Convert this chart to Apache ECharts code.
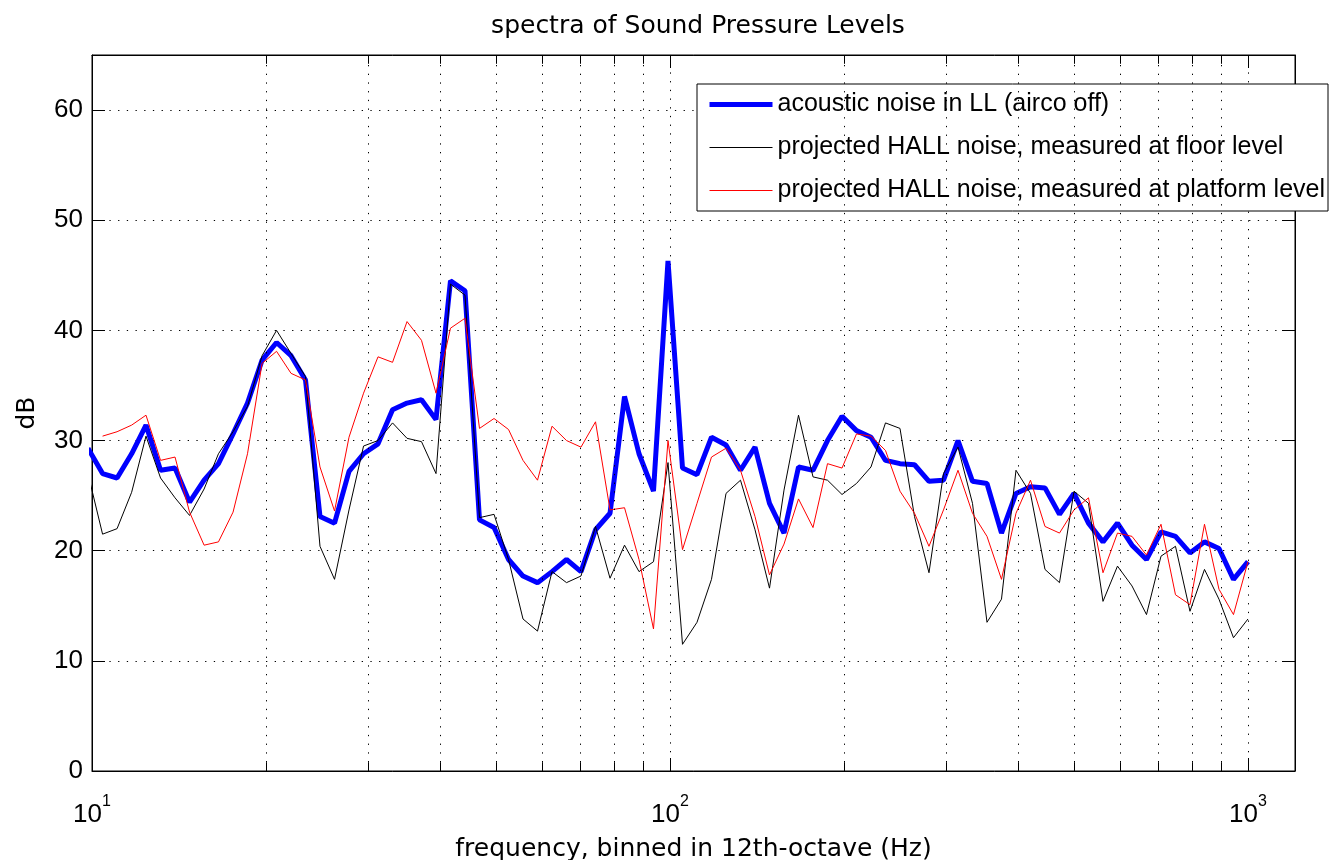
<!DOCTYPE html>
<html>
<head>
<meta charset="utf-8">
<script src="https://cdn.jsdelivr.net/npm/echarts@6/dist/echarts.min.js"></script>
<style>html,body{margin:0;padding:0;background:#fff}#c{width:1330px;height:860px}</style>
</head>
<body>
<div id="c"></div>
<script>
// 12th-octave bin centre frequencies (Hz)
const frequencies = [9.84, 10.43, 11.05, 11.71, 12.40, 13.14, 13.92, 14.75,
  15.63, 16.55, 17.54, 18.58, 19.69, 20.86, 22.10, 23.41, 24.80, 26.28, 27.84, 29.50,
  31.25, 33.11, 35.08, 37.16, 39.37, 41.71, 44.19, 46.82, 49.61, 52.56, 55.68, 58.99,
  62.5, 66.22, 70.15, 74.33, 78.75, 83.43, 88.39, 93.64, 99.21, 105.11, 111.36, 117.98,
  125, 132.43, 140.31, 148.65, 157.49, 166.86, 176.78, 187.29, 198.43, 210.22, 222.72, 235.97,
  250, 264.87, 280.62, 297.30, 314.98, 333.71, 353.55, 374.58, 396.85, 420.45, 445.45, 471.94,
  500, 529.73, 561.23, 594.60, 629.96, 667.42, 707.11, 749.15, 793.70, 840.90, 890.90, 943.87, 1000];

// acoustic noise in LL (airco off), dB
const llNoise = [29.3, 27.0, 26.6, 28.8, 31.4, 27.3, 27.5, 24.4,
  26.4, 27.9, 30.6, 33.4, 37.3, 38.9, 37.7, 35.5, 23.1, 22.5, 27.2, 28.8,
  29.7, 32.8, 33.4, 33.7, 31.9, 44.5, 43.6, 22.8, 22.1, 19.2, 17.7, 17.1,
  18.1, 19.2, 18.1, 21.9, 23.4, 34.0, 28.8, 25.4, 46.3, 27.5, 26.9, 30.3,
  29.6, 27.3, 29.4, 24.3, 21.6, 27.6, 27.3, 30.0, 32.2, 30.9, 30.3, 28.2,
  27.9, 27.8, 26.3, 26.4, 30.0, 26.3, 26.1, 21.6, 25.2, 25.8, 25.7, 23.3,
  25.2, 22.5, 20.8, 22.5, 20.5, 19.2, 21.7, 21.3, 19.8, 20.8, 20.2, 17.4, 19.0];

// projected HALL noise, measured at floor level, dB
const hallFloor = [27.0, 21.5, 22.0, 25.3, 30.4, 26.6, 24.8, 23.2,
  25.6, 28.8, 30.8, 33.1, 37.7, 40.0, 37.9, 35.8, 20.4, 17.4, 23.7, 29.5,
  30.0, 31.6, 30.2, 29.9, 27.0, 44.2, 43.2, 23.0, 23.3, 19.2, 13.8, 12.7,
  18.1, 17.1, 17.7, 22.2, 17.5, 20.5, 18.1, 19.0, 28.0, 11.5, 13.5, 17.4,
  25.2, 26.4, 21.9, 16.6, 25.5, 32.3, 26.7, 26.4, 25.1, 26.1, 27.6, 31.6,
  31.1, 23.1, 18.0, 27.0, 29.4, 24.3, 13.5, 15.6, 27.3, 25.2, 18.3, 17.1,
  25.4, 24.3, 15.4, 18.6, 16.8, 14.2, 19.5, 20.4, 14.5, 18.3, 15.6, 12.1, 13.8];

// projected HALL noise, measured at platform level, dB
const hallPlatform = [null, 30.4, 30.8, 31.4, 32.3, 28.2, 28.5, 23.5,
  20.5, 20.8, 23.5, 28.8, 37.0, 38.1, 36.1, 35.5, 27.6, 23.6, 30.3, 34.3,
  37.6, 37.1, 40.8, 39.1, 34.3, 40.2, 41.1, 31.1, 32.0, 31.0, 28.2, 26.4,
  31.3, 30.0, 29.4, 31.7, 23.7, 23.9, 19.2, 12.9, 30.0, 20.1, 24.3, 28.5,
  29.3, 27.3, 23.1, 17.8, 20.6, 24.7, 22.1, 27.9, 27.5, 30.6, 30.4, 29.1,
  25.4, 23.4, 20.4, 23.7, 27.3, 23.4, 21.3, 17.4, 23.4, 26.4, 22.2, 21.6,
  23.7, 24.8, 18.0, 21.6, 21.3, 19.6, 22.4, 16.0, 15.1, 22.4, 16.5, 14.2, 19.0];

const seriesNames = ['acoustic noise in LL (airco off)',
  'projected HALL noise, measured at floor level',
  'projected HALL noise, measured at platform level'];

// minor log grid positions (Hz)
const minorFreqs = [20, 30, 40, 50, 60, 70, 80, 90, 200, 300, 400, 500, 600, 700, 800, 900];

const X_MIN = 10, X_MAX = 1206, Y_MIN = 0, Y_MAX = 65, Y_STEP = 10;

const pairs = arr => frequencies.map((f, i) => [f, arr[i]]);
const TICK_FONT = "'Liberation Sans', Arial, sans-serif";
const NAME_FONT = "'DejaVu Sans', sans-serif";
const dotted = [1.3, 7.4];

const markData = [];
minorFreqs.forEach(f => markData.push({ xAxis: f }));
const MINOR_LEN = 0.8;
minorFreqs.forEach(f => {
  markData.push([{ coord: [f, Y_MIN], lineStyle: { type: 'solid', width: 1 } }, { coord: [f, Y_MIN + MINOR_LEN], lineStyle: { type: 'solid', width: 1 } }]);
  markData.push([{ coord: [f, Y_MAX], lineStyle: { type: 'solid', width: 1 } }, { coord: [f, Y_MAX - MINOR_LEN], lineStyle: { type: 'solid', width: 1 } }]);
});

const chart = echarts.init(document.getElementById('c'), null, { renderer: 'canvas' });
const option = {
  animation: false,
  backgroundColor: '#fff',
  title: {
    text: 'spectra of Sound Pressure Levels',
    left: 693, top: 9, textAlign: 'center',
    textStyle: { fontFamily: NAME_FONT, fontSize: 25, fontWeight: 'normal', color: '#000' }
  },
  grid: { left: 92, top: 55, right: 35, bottom: 89, show: true, borderColor: '#000', borderWidth: 1, outerBoundsMode: 'none', containLabel: false },
  legend: {
    orient: 'vertical', left: 697, top: 84,
    backgroundColor: '#fff', borderColor: '#000', borderWidth: 1, borderRadius: 0,
    padding: [8, 3, 8, 10], itemGap: 18, itemWidth: 63, itemHeight: 14,
    selectedMode: false,
    itemStyle: { opacity: 0 },
    data: [
      { name: seriesNames[0], lineStyle: { width: 5, color: '#0000ff' } },
      { name: seriesNames[1], lineStyle: { width: 1, color: '#000000' } },
      { name: seriesNames[2], lineStyle: { width: 1, color: '#ff0000' } }
    ],
    textStyle: { fontFamily: "'Liberation Sans', Arial, sans-serif", fontSize: 25, color: '#000' }
  },
  xAxis: [{
    type: 'log', logBase: 10, min: X_MIN, max: X_MAX, position: 'bottom',
    axisLine: { show: true, onZero: false, lineStyle: { color: '#000', width: 1 } },
    axisTick: { show: true, inside: true, length: 13, lineStyle: { color: '#000' } },
    axisLabel: {
      margin: 23, showMaxLabel: false, color: '#000',
      formatter: v => '{b|10}{s|' + Math.round(Math.log10(v)) + '}',
      rich: {
        b: { fontSize: 26, fontFamily: TICK_FONT, color: '#000', lineHeight: 34, verticalAlign: 'bottom' },
        s: { fontSize: 16, fontFamily: TICK_FONT, color: '#000', lineHeight: 16, verticalAlign: 'top' }
      }
    },
    splitLine: { show: true, lineStyle: { color: '#000', width: 1, type: dotted } },
    name: 'frequency, binned in 12th-octave (Hz)', nameLocation: 'middle', nameGap: 66,
    nameMoveOverlap: false,
    nameTextStyle: { fontFamily: NAME_FONT, fontSize: 25, color: '#000' }
  }, {
    type: 'log', logBase: 10, min: X_MIN, max: X_MAX, position: 'top',
    axisLine: { show: true, onZero: false, lineStyle: { color: '#000', width: 1 } },
    axisTick: { show: true, inside: true, length: 13, lineStyle: { color: '#000' } },
    axisLabel: { show: false }, splitLine: { show: false }
  }],
  yAxis: [{
    type: 'value', min: Y_MIN, max: Y_MAX, interval: Y_STEP, position: 'left',
    axisLine: { show: true, onZero: false, lineStyle: { color: '#000', width: 1 } },
    axisTick: { show: true, inside: true, length: 13, lineStyle: { color: '#000' } },
    axisLabel: { margin: 9, showMaxLabel: false, fontFamily: TICK_FONT, fontSize: 26, color: '#000' },
    splitLine: { show: true, lineStyle: { color: '#000', width: 1, type: dotted } },
    name: 'dB', nameLocation: 'middle', nameGap: 52, nameRotate: 90, nameMoveOverlap: false,
    nameTextStyle: { fontFamily: NAME_FONT, fontSize: 25, color: '#000' }
  }, {
    type: 'value', min: Y_MIN, max: Y_MAX, interval: Y_STEP, position: 'right',
    axisLine: { show: true, onZero: false, lineStyle: { color: '#000', width: 1 } },
    axisTick: { show: true, inside: true, length: 13, lineStyle: { color: '#000' } },
    axisLabel: { show: false }, splitLine: { show: false }
  }],
  series: [{
    name: '__grid', type: 'line', data: [[100, -10]], symbol: 'none', silent: true, z: 1,
    lineStyle: { opacity: 0 }, clip: true,
    markLine: {
      silent: true, symbol: ['none', 'none'], label: { show: false }, animation: false,
      emphasis: { disabled: true },
      lineStyle: { color: '#000', width: 1, type: dotted },
      data: markData
    }
  }, {
    name: seriesNames[0], type: 'line', data: pairs(llNoise), symbol: 'none', showSymbol: false,
    lineStyle: { color: '#0000ff', width: 5 }, itemStyle: { color: '#0000ff' }, z: 3, clip: true,
    emphasis: { disabled: true }
  }, {
    name: seriesNames[1], type: 'line', data: pairs(hallFloor), symbol: 'none', showSymbol: false,
    lineStyle: { color: '#000000', width: 1 }, itemStyle: { color: '#000000' }, z: 3, clip: true,
    emphasis: { disabled: true }
  }, {
    name: seriesNames[2], type: 'line', data: pairs(hallPlatform), symbol: 'none', showSymbol: false,
    lineStyle: { color: '#ff0000', width: 1 }, itemStyle: { color: '#ff0000' }, z: 3, clip: true,
    emphasis: { disabled: true }
  }]
};
chart.setOption(option);
</script>
</body>
</html>
